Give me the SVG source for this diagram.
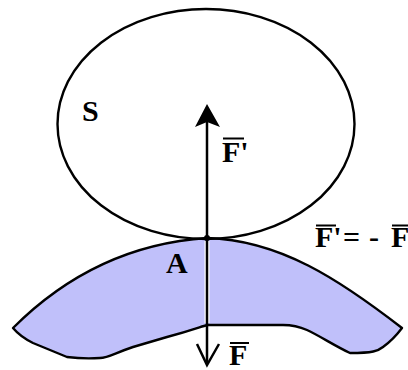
<svg xmlns="http://www.w3.org/2000/svg" width="408" height="370" viewBox="0 0 408 370">
<style>
.t{font-family:"Liberation Serif","Times New Roman",serif;font-weight:bold;font-size:30px;fill:#000}
.ln{stroke:#000;fill:none}
.bar{stroke:#000;stroke-width:2}
</style>
<rect width="408" height="370" fill="#fff"/>
<g id="support">
<path d="M13,328 C68,273 132,243 207,238 C280,240 340,280 402,328 C396,336 390,342 383,347 C378,351 373,353 350,353 C335,346 320,336 307,330 C298,326 290,325 283,325 L207,325 C200,327 190,331 167,337 C150,342 140,345 133,347 C115,353 108,358 100,358 C85,359 75,358 67,357 C55,352 45,348 33,343 C25,339 18,334 13,328 Z" fill="#c0c0fa" stroke="#000" stroke-width="2.4" stroke-linejoin="round"/>
</g>
<g id="solid">
<ellipse cx="206" cy="124" rx="148.5" ry="115" class="ln" stroke-width="2.4"/>
</g>
<g id="connectors">
<line x1="207" y1="241" x2="207" y2="323" stroke="#fff" stroke-width="5"/>
<line x1="207" y1="120" x2="207" y2="364" class="ln" stroke-width="2.5"/>
<path d="M207,104 L220,127 L207,122 L195,127 Z" fill="#000"/>
<path d="M197,344 L207,365 L219,344" fill="none" stroke="#000" stroke-width="2.5" stroke-linejoin="miter"/>
<circle cx="207" cy="238" r="3" fill="#000"/>
</g>
<g id="labels">
<text class="t" x="82" y="121">S</text>
<text class="t" x="222" y="162">F'</text>
<line class="bar" x1="223" y1="138.5" x2="244" y2="138.5"/>
<text class="t" x="166" y="273">A</text>
<text class="t" y="247"><tspan x="315">F'</tspan><tspan x="343">=</tspan><tspan x="369">-</tspan><tspan x="391">F</tspan></text>
<line class="bar" x1="316" y1="225.5" x2="336" y2="225.5"/>
<line class="bar" x1="392" y1="225.5" x2="408" y2="225.5"/>
<text class="t" x="229" y="365">F</text>
<line class="bar" x1="230" y1="343" x2="249" y2="343"/>
</g>
</svg>
